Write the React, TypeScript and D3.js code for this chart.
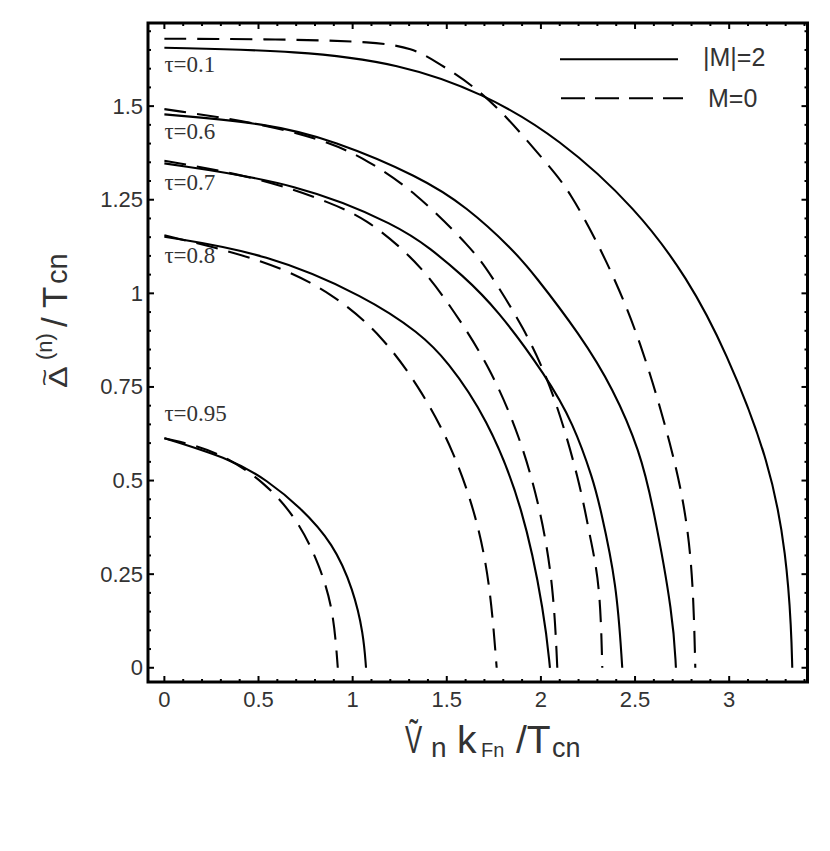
import * as d3 from "d3";

// tau = 0.1
const tau01M2: [number, number][] = [
  [0, 1.656], [0.72, 1.648], [1.25, 1.614], [1.69, 1.536], [2.1, 1.414],
  [2.51, 1.225], [2.78, 1.04], [2.98, 0.85], [3.22, 0.546], [3.305, 0.296],
  [3.33, 0.1], [3.335, 0],
];
const tau01M0: [number, number][] = [
  [0, 1.68], [0.6, 1.679], [1.13, 1.672], [1.32, 1.654], [1.43, 1.623],
  [1.64, 1.556], [1.82, 1.472], [2.03, 1.347], [2.15, 1.277], [2.35, 1.089],
  [2.53, 0.875], [2.7, 0.581], [2.774, 0.403], [2.809, 0.225], [2.82, 0],
];
// tau = 0.6
const tau06M2: [number, number][] = [
  [0, 1.478], [0.544, 1.454], [0.898, 1.409], [1.358, 1.311], [1.606, 1.231],
  [1.853, 1.116], [1.96, 1.053], [2.208, 0.89], [2.385, 0.745], [2.526, 0.578],
  [2.597, 0.43], [2.703, 0.136], [2.717, 0],
];
const tau06M0: [number, number][] = [
  [0, 1.492], [0.544, 1.452], [0.898, 1.4], [1.075, 1.356], [1.322, 1.276],
  [1.641, 1.116], [1.729, 1.053], [1.907, 0.911], [2.066, 0.742],
  [2.208, 0.493], [2.26, 0.35], [2.314, 0.225], [2.326, 0],
];
// tau = 0.7
const tau07M2: [number, number][] = [
  [0, 1.347], [0.72, 1.294], [1.252, 1.178], [1.411, 1.12], [1.58, 1.05],
  [1.765, 0.96], [2.031, 0.777], [2.172, 0.653], [2.279, 0.5], [2.314, 0.43],
  [2.403, 0.225], [2.432, 0],
];
const tau07M0: [number, number][] = [
  [0, 1.354], [0.5, 1.31], [0.898, 1.24], [1.075, 1.196], [1.252, 1.125],
  [1.393, 1.053], [1.535, 0.955], [1.729, 0.804], [1.889, 0.617], [1.995, 0.43],
  [2.066, 0.225], [2.087, 0],
];
// tau = 0.8
const tau08M2: [number, number][] = [
  [0, 1.151], [0.544, 1.107], [1.075, 0.99], [1.358, 0.893],
  [1.5, 0.822], [1.712, 0.67], [1.907, 0.43], [2.021, 0.136], [2.048, 0],
];
const tau08M0: [number, number][] = [
  [0, 1.155], [0.544, 1.089], [0.898, 1.0], [1.164, 0.884], [1.376, 0.733],
  [1.535, 0.581], [1.659, 0.403], [1.73, 0.225], [1.765, 0],
];
// tau = 0.95
const tau095M2: [number, number][] = [
  [0, 0.613], [0.366, 0.555], [0.544, 0.501], [0.72, 0.43], [0.898, 0.332],
  [1.004, 0.208], [1.057, 0.092], [1.071, 0],
];
const tau095M0: [number, number][] = [
  [0, 0.613], [0.278, 0.581], [0.544, 0.493], [0.72, 0.386], [0.827, 0.27],
  [0.898, 0.154], [0.921, 0],
];

const tauLabels = ["τ=0.1", "τ=0.6", "τ=0.7", "τ=0.8", "τ=0.95"];
const tauLabelY = [1.59, 1.413, 1.277, 1.08, 0.66];

const xTickValues = [0, 0.5, 1, 1.5, 2, 2.5, 3];
const xTickLabels = ["0", "0.5", "1", "1.5", "2", "2.5", "3"];
const yTickValues = [0, 0.25, 0.5, 0.75, 1, 1.25, 1.5];
const yTickLabels = ["0", "0.25", "0.5", "0.75", "1", "1.25", "1.5"];

const W = 830;
const H = 851;
const frame = { left: 148, right: 807.5, top: 23, bottom: 682 };
const DASH = "22,11";
const TXT = "#333";
const SANS = "'Liberation Sans', Arial, sans-serif";
const SERIF = "'Liberation Serif', 'Times New Roman', serif";

export default function App() {
  const x = d3.scaleLinear().domain([-0.087, 3.416]).range([frame.left, frame.right]);
  const y = d3.scaleLinear().domain([-0.038, 1.722]).range([frame.bottom, frame.top]);

  // readings are a bit noisy, so smooth them with a B-spline
  const line = d3
    .line<[number, number]>()
    .x((d) => x(d[0]))
    .y((d) => y(d[1]))
    .curve(d3.curveBasis);

  const series = [
    { data: tau01M2, dashed: false },
    { data: tau01M0, dashed: true },
    { data: tau06M2, dashed: false },
    { data: tau06M0, dashed: true },
    { data: tau07M2, dashed: false },
    { data: tau07M0, dashed: true },
    { data: tau08M2, dashed: false },
    { data: tau08M0, dashed: true },
    { data: tau095M2, dashed: false },
    { data: tau095M0, dashed: true },
  ];

  const xMinor = d3.range(0, 3.41, 0.1);
  const yMinor = d3.range(0, 1.701, 0.05);
  const isMajor = (v: number, step: number) =>
    Math.abs(v / step - Math.round(v / step)) < 1e-6;

  return (
    <svg
      width={W}
      height={H}
      style={{ position: "absolute", left: 0, top: 0, background: "#fff" }}
    >
      <rect x={0} y={0} width={W} height={H} fill="#fff" />

      {/* curves */}
      <g fill="none" stroke="#000" strokeWidth={2.1}>
        {series.map((s, i) => (
          <path
            key={i}
            d={line(s.data) ?? ""}
            strokeDasharray={s.dashed ? DASH : undefined}
          />
        ))}
      </g>

      {/* tau labels */}
      {tauLabels.map((t, i) => (
        <text
          key={t}
          x={x(0)}
          y={y(tauLabelY[i])}
          fontFamily={SERIF}
          fontSize={23}
          fill={TXT}
        >
          {t}
        </text>
      ))}

      {/* ticks */}
      <g stroke="#000" strokeWidth={2}>
        {xMinor.map((v) => {
          const len = isMajor(v, 0.5) ? 6 : 3;
          return (
            <g key={"x" + v}>
              <line x1={x(v)} x2={x(v)} y1={frame.bottom} y2={frame.bottom - len} />
              <line x1={x(v)} x2={x(v)} y1={frame.top} y2={frame.top + len} />
            </g>
          );
        })}
        {yMinor.map((v) => {
          const len = isMajor(v, 0.25) ? 6 : 3;
          return (
            <g key={"y" + v}>
              <line x1={frame.left} x2={frame.left + len} y1={y(v)} y2={y(v)} />
              <line x1={frame.right} x2={frame.right - len} y1={y(v)} y2={y(v)} />
            </g>
          );
        })}
      </g>

      {/* frame */}
      <rect
        x={frame.left}
        y={frame.top}
        width={frame.right - frame.left}
        height={frame.bottom - frame.top}
        fill="none"
        stroke="#000"
        strokeWidth={3}
      />

      {/* tick labels */}
      <g fontFamily={SANS} fontSize={22} fill={TXT}>
        {xTickValues.map((v, i) => (
          <text key={"xl" + v} x={x(v)} y={707} textAnchor="middle">
            {xTickLabels[i]}
          </text>
        ))}
        {yTickValues.map((v, i) => (
          <text key={"yl" + v} x={143} y={y(v) + 7.5} textAnchor="end">
            {yTickLabels[i]}
          </text>
        ))}
      </g>

      {/* legend */}
      <line x1={560} x2={678} y1={59.3} y2={59.3} stroke="#000" strokeWidth={2.1} />
      <line
        x1={561}
        x2={683}
        y1={98.3}
        y2={98.3}
        stroke="#000"
        strokeWidth={2.1}
        strokeDasharray="24,10"
      />
      <g fontFamily={SANS} fontSize={25} fill={TXT}>
        <text x={703} y={65.5}>|M|=2</text>
        <text x={708} y={106.5}>M=0</text>
      </g>

      {/* x axis title */}
      <g fontFamily={SANS} fill={TXT}>
        <text transform="translate(405,753) scale(0.66,1)" fontSize={39}>Ṽ</text>
        <text x={431} y={757} fontSize={28}>n</text>
        <text x={457} y={753} fontSize={39}>k</text>
        <text x={481} y={757} fontSize={20}>Fn</text>
        <text x={516} y={753} fontSize={39}>/T</text>
        <text x={552} y={757} fontSize={27}>cn</text>
      </g>

      {/* y axis title */}
      <g fontFamily={SANS} fill={TXT} transform="translate(67,388) rotate(-90)">
        <text transform="scale(1.25,1)" x={0} y={0} fontSize={26}>
          Δ
          <tspan dx={-16} dy={-14} fontSize={24}>~</tspan>
        </text>
        <text x={28} y={-15} fontSize={22}>(n)</text>
        <text x={61} y={0} fontSize={35}>/</text>
        <text x={80} y={0} fontSize={35}>T</text>
        <text x={104} y={0} fontSize={29}>cn</text>
      </g>
    </svg>
  );
}
